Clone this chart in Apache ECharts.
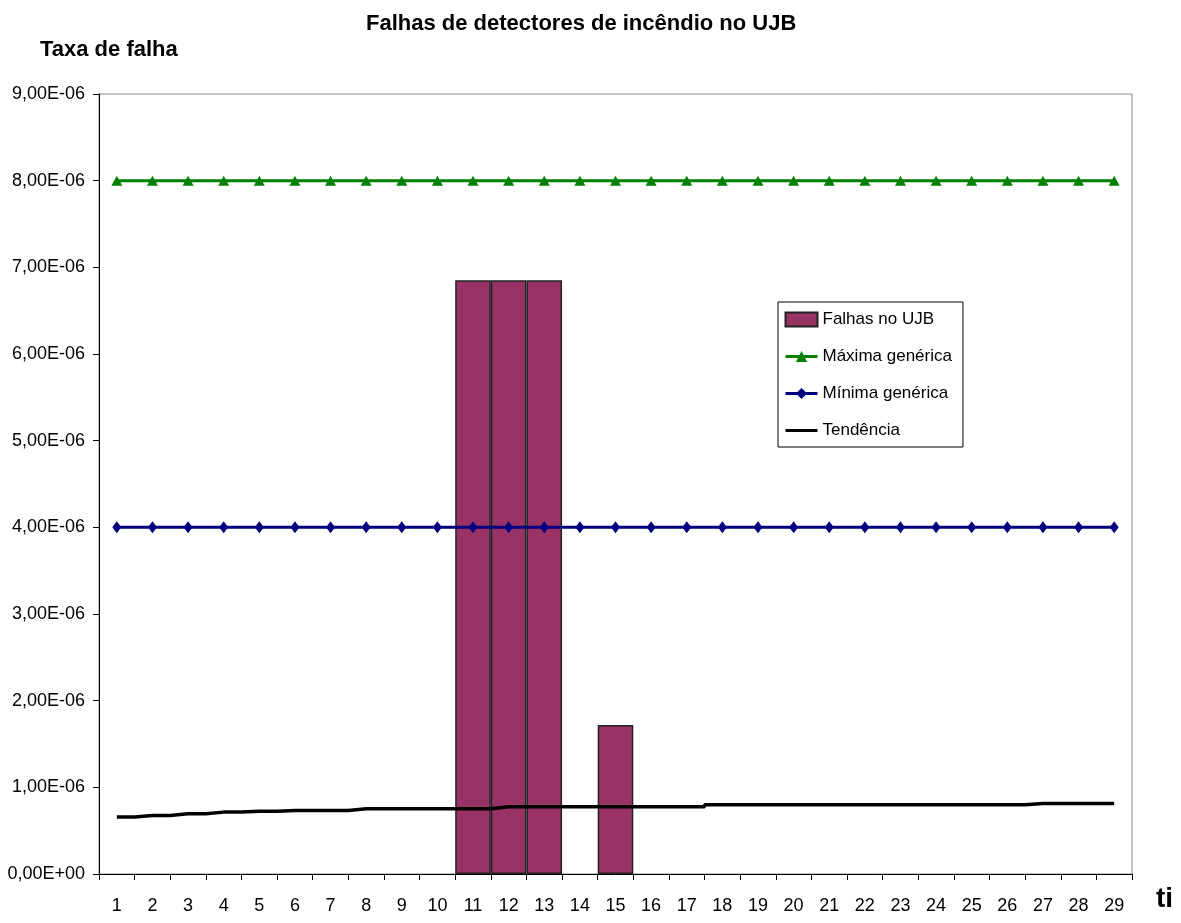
<!DOCTYPE html>
<html>
<head>
<meta charset="utf-8">
<script src="https://cdn.jsdelivr.net/npm/echarts@6/dist/echarts.min.js"></script>
<style>
  html, body { margin: 0; padding: 0; background: #fff; }
  #main { width: 1181px; height: 923px; }
</style>
</head>
<body>
<div id="main"></div>
<script>
// categories (ti)
var categories = ['1','2','3','4','5','6','7','8','9','10','11','12','13','14','15',
  '16','17','18','19','20','21','22','23','24','25','26','27','28','29'];

// Falhas no UJB (bars)
var falhas = [null, null, null, null, null, null, null, null, null, null,
  6.85e-6, 6.85e-6, 6.85e-6, null, 1.72e-6, null, null, null, null, null,
  null, null, null, null, null, null, null, null, null];

// Máxima / Mínima genérica
var maxima = [8e-6, 8e-6, 8e-6, 8e-6, 8e-6, 8e-6, 8e-6, 8e-6, 8e-6, 8e-6,
  8e-6, 8e-6, 8e-6, 8e-6, 8e-6, 8e-6, 8e-6, 8e-6, 8e-6, 8e-6,
  8e-6, 8e-6, 8e-6, 8e-6, 8e-6, 8e-6, 8e-6, 8e-6, 8e-6];
var minima = [4e-6, 4e-6, 4e-6, 4e-6, 4e-6, 4e-6, 4e-6, 4e-6, 4e-6, 4e-6,
  4e-6, 4e-6, 4e-6, 4e-6, 4e-6, 4e-6, 4e-6, 4e-6, 4e-6, 4e-6,
  4e-6, 4e-6, 4e-6, 4e-6, 4e-6, 4e-6, 4e-6, 4e-6, 4e-6];

// Tendência
var tendencia = [0.657e-6, 0.675e-6, 0.694e-6, 0.714e-6, 0.725e-6, 0.734e-6, 0.734e-6,
  0.752e-6, 0.752e-6, 0.752e-6, 0.752e-6, 0.775e-6, 0.775e-6, 0.775e-6, 0.775e-6,
  0.775e-6, 0.775e-6, 0.80e-6, 0.80e-6, 0.80e-6, 0.80e-6, 0.80e-6, 0.80e-6,
  0.80e-6, 0.80e-6, 0.80e-6, 0.813e-6, 0.813e-6, 0.813e-6];

var fontFam = '"Liberation Sans", Arial, sans-serif';

function sciLabel(v) {
    if (v === 0) return '0,00E+00';
    var s = v.toExponential(2);          // e.g. "4.00e-6"
    var parts = s.split('e');
    var exp = parseInt(parts[1], 10);
    var sign = exp < 0 ? '-' : '+';
    var e = Math.abs(exp);
    return parts[0].replace('.', ',') + 'E' + sign + (e < 10 ? '0' + e : e);
}

var myChart = echarts.init(document.getElementById('main'));

option = {
    backgroundColor: '#fff',
    animation: false,
    title: [{
        text: 'Falhas de detectores de incêndio no UJB',
        left: 361,
        top: 8,
        textStyle: { fontFamily: fontFam, fontSize: 22, fontWeight: 'bold', color: '#000' }
    }, {
        text: 'Taxa de falha',
        left: 35,
        top: 34,
        textStyle: { fontFamily: fontFam, fontSize: 22, fontWeight: 'bold', color: '#000' }
    }, {
        text: 'ti',
        left: 1151,
        top: 880,
        textStyle: { fontFamily: fontFam, fontSize: 28, fontWeight: 'bold', color: '#000' }
    }],
    legend: {
        orient: 'vertical',
        left: 778,
        top: 302,
        padding: [9, 11, 8, 6],
        itemGap: 20,
        itemWidth: 32,
        itemHeight: 14,
        borderColor: '#000',
        borderWidth: 1,
        lineStyle: { width: 3 },
        textStyle: { fontFamily: fontFam, fontSize: 17, color: '#000' },
        data: [
            { name: 'Falhas no UJB', icon: 'rect' },
            'Máxima genérica',
            'Mínima genérica',
            { name: 'Tendência', itemStyle: { color: 'rgba(0,0,0,0)', borderWidth: 0 }, lineStyle: { color: '#000', width: 3 } }
        ]
    },
    grid: {
        left: 99,
        right: 49,
        top: 94,
        bottom: 49,
        outerBoundsMode: 'none',
        show: true,
        borderColor: '#888',
        borderWidth: 1
    },
    xAxis: {
        type: 'category',
        data: categories,
        boundaryGap: true,
        axisLine: { lineStyle: { color: '#000', width: 1 } },
        axisTick: { show: true, interval: 0, length: 6, lineStyle: { color: '#000' } },
        axisLabel: { interval: 0, margin: 23, fontFamily: fontFam, fontSize: 18, color: '#000' },
        splitLine: { show: false }
    },
    yAxis: {
        type: 'value',
        min: 0,
        max: 9e-6,
        interval: 1e-6,
        axisLine: { show: true, lineStyle: { color: '#000', width: 1 } },
        axisTick: { show: true, length: 6, lineStyle: { color: '#000' } },
        axisLabel: { margin: 14, fontFamily: fontFam, fontSize: 18, color: '#000', formatter: sciLabel },
        splitLine: { show: false }
    },
    series: [{
        name: 'Falhas no UJB',
        type: 'bar',
        data: falhas,
        barCategoryGap: '0%',
        itemStyle: { color: '#993366', borderColor: '#222', borderWidth: 1.5 }
    }, {
        name: 'Máxima genérica',
        type: 'line',
        data: maxima,
        symbol: 'triangle',
        symbolSize: [11, 10],
        lineStyle: { color: '#008000', width: 3 },
        itemStyle: { color: '#008000' }
    }, {
        name: 'Mínima genérica',
        type: 'line',
        data: minima,
        symbol: 'diamond',
        symbolSize: [9, 12],
        lineStyle: { color: '#000080', width: 3 },
        itemStyle: { color: '#000080' }
    }, {
        name: 'Tendência',
        type: 'line',
        data: tendencia,
        step: 'middle',
        symbol: 'none',
        lineStyle: { color: '#000', width: 3.5 },
        itemStyle: { color: '#000' }
    }]
};

myChart.setOption(option);
</script>
</body>
</html>
